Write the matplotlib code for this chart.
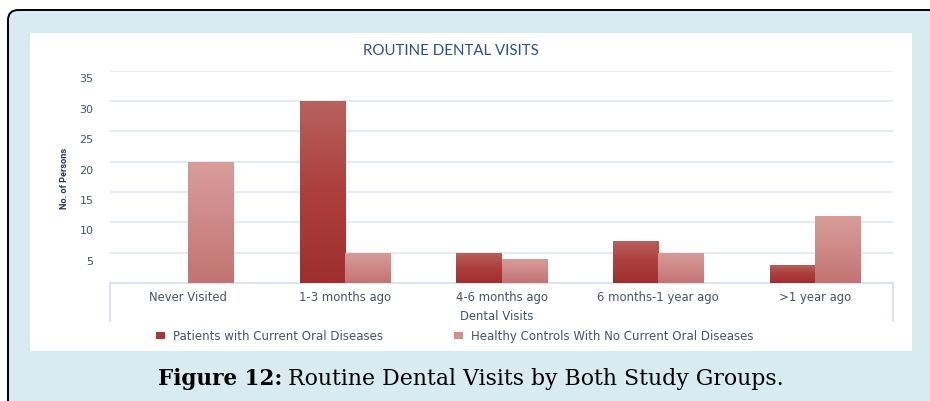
import matplotlib
matplotlib.use("Agg")
import matplotlib.pyplot as plt
import numpy as np
from matplotlib.patches import FancyBboxPatch, Rectangle
from matplotlib.lines import Line2D
from matplotlib.transforms import ScaledTranslation
from matplotlib.colors import LinearSegmentedColormap

categories = ["Never Visited", "1-3 months ago", "4-6 months ago", "6 months-1 year ago", ">1 year ago"]
patients = [0, 30, 5, 7, 3]
healthy = [20, 5, 4, 5, 11]
yticks = [5, 10, 15, 20, 25, 30, 35]
series_names = ["Patients with Current Oral Diseases", "Healthy Controls With No Current Oral Diseases"]

W, H = 930, 402
fig = plt.figure(figsize=(W / 100, H / 100), dpi=100)
fig.patch.set_facecolor("white")

def fx(px):
    return px / W

def fy(py):
    return 1 - py / H

# outer rounded frame
frame = FancyBboxPatch((fx(8), fy(420)), fx(940) - fx(8), fy(11) - fy(420),
                       boxstyle="round,pad=0,rounding_size=0.011",
                       transform=fig.transFigure, facecolor="#d8ebf1",
                       edgecolor="black", linewidth=1.4, zorder=0, mutation_aspect=W / H)
fig.patches.append(frame)
# inner white panel
panel = Rectangle((fx(30), fy(352)), fx(912) - fx(30), fy(34) - fy(352),
                  transform=fig.transFigure, facecolor="white", edgecolor="none", zorder=0.5)
fig.patches.append(panel)

ax = fig.add_axes([fx(110), fy(284), fx(893) - fx(110), fy(71.5) - fy(284)])
ax.set_facecolor("none")
ax.set_zorder(2)

x = np.arange(len(categories))
bw = 0.2875
c_pat_top, c_pat_bot = "#b7625f", "#9f2f2c"
c_h_top, c_h_bot = "#d99d9b", "#c27472"
cm_p = LinearSegmentedColormap.from_list("p", [c_pat_bot, "#ad3f3c", c_pat_top])
cm_h = LinearSegmentedColormap.from_list("h", [c_h_bot, c_h_top])

bars_p = ax.bar(x - bw / 2, patients, bw, color=c_pat_bot, zorder=3, label=series_names[0])
bars_h = ax.bar(x + bw / 2, healthy, bw, color=c_h_top, zorder=3, label=series_names[1])

grad = np.linspace(0, 1, 256).reshape(-1, 1)
for bars, cm in ((bars_p, cm_p), (bars_h, cm_h)):
    for b in bars:
        h = b.get_height()
        if h <= 0:
            continue
        x0 = b.get_x()
        b.set_facecolor("none")
        b.set_edgecolor((1, 1, 1, 0.35))
        b.set_linewidth(0.8)
        im = ax.imshow(grad, cmap=cm, origin="lower", aspect="auto",
                       extent=(x0, x0 + b.get_width(), 0, h), zorder=3)
        im.set_clip_path(b)

ax.set_xlim(-0.5, len(categories) - 0.5)
ax.set_ylim(0, 35)
ax.set_yticks(yticks)
ax.set_yticklabels([str(v) for v in yticks])
ax.yaxis.grid(True, color="#e1e9f5", linewidth=1.3, zorder=0)
ax.set_axisbelow(True)
for s in ["top", "right", "left"]:
    ax.spines[s].set_visible(False)
ax.spines["bottom"].set_color("#d3deec")
ax.spines["bottom"].set_linewidth(1.2)
ax.tick_params(axis="y", length=0, pad=12, labelsize=8, labelcolor="#44546a")
ax.tick_params(axis="x", length=0, pad=5, labelsize=8.4, labelcolor="#44546a")
for lab in ax.get_yticklabels():
    lab.set_transform(lab.get_transform() + ScaledTranslation(0, -0.07, fig.dpi_scale_trans))
    lab.set_family("DejaVu Sans")
ax.set_xticks(x)
ax.set_xticklabels(categories, family="DejaVu Sans")

# x-axis box side lines
for px in (110, 893):
    fig.add_artist(Line2D([fx(px), fx(px)], [fy(284), fy(322)], transform=fig.transFigure,
                          color="#d3deec", linewidth=1.2, zorder=3))

fig.text(fx(451), fy(51), "ROUTINE DENTAL VISITS", ha="center", va="center",
         fontsize=10.8, color="#2e4f86", family="Lato")
fig.text(fx(64), fy(178), "No. of Persons", rotation=90, ha="center", va="center",
         fontsize=6.6, color="#1f3864", family="Roboto", fontweight="bold")
fig.text(fx(497), fy(317), "Dental Visits", ha="center", va="center",
         fontsize=8.4, color="#44546a", family="DejaVu Sans")

leg_colors = ["#a83836", "#d38f8d"]
leg_x = [156, 454]
for name, col, lx in zip(series_names, leg_colors, leg_x):
    fig.legend([Rectangle((0, 0), 1, 1, facecolor=col)], [name], loc="center left",
               bbox_to_anchor=(fx(lx), fy(337)), frameon=False, labelcolor="#44546a",
               handlelength=0.8, handleheight=0.6, handletextpad=0.6,
               borderpad=0, borderaxespad=0,
               prop={"family": "DejaVu Sans", "size": 8.5})

t1 = fig.text(fx(158), fy(379), "Figure 12:", ha="left", va="center", fontsize=15.5,
              fontweight="bold", family="DejaVu Serif", color="black")
fig.canvas.draw()
bb = t1.get_window_extent()
fig.text(bb.x1 / W + fx(6), fy(379), "Routine Dental Visits by Both Study Groups.",
         ha="left", va="center", fontsize=15.8, family="DejaVu Serif", color="black")

fig.savefig("out.png", dpi=100, facecolor="white")
